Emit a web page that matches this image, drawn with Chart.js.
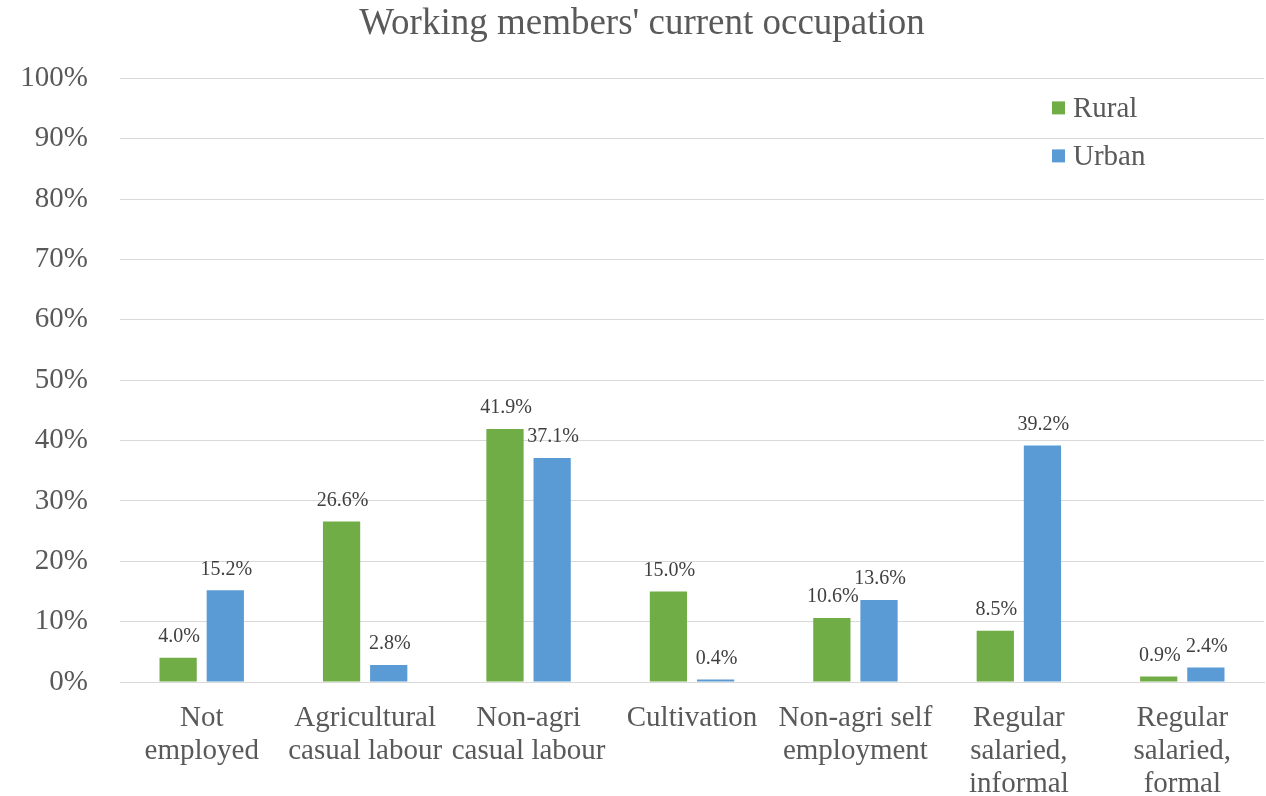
<!DOCTYPE html>
<html>
<head>
<meta charset="utf-8">
<script src="https://cdn.jsdelivr.net/npm/chart.js@4/dist/chart.umd.min.js"></script>
<style>
  html, body { margin: 0; padding: 0; background: #fff; }
  #wrap { width: 1266px; height: 796px; }
</style>
</head>
<body>
<div id="wrap"><canvas id="grafico"></canvas></div>
<script>
const categorias = [
  ["Not", "employed"],
  ["Agricultural", "casual labour"],
  ["Non-agri", "casual labour"],
  ["Cultivation"],
  ["Non-agri self", "employment"],
  ["Regular", "salaried,", "informal"],
  ["Regular", "salaried,", "formal"]
];
const rural = [4.0, 26.6, 41.9, 15.0, 10.6, 8.5, 0.9];
const urbano = [15.2, 2.8, 37.1, 0.4, 13.6, 39.2, 2.4];
const serieNomes = ["Rural", "Urban"];
const ticksY = [0, 10, 20, 30, 40, 50, 60, 70, 80, 90, 100];

const fonte = "'Liberation Serif', 'Times New Roman', serif";
const cinza = "#595959";

// rotulos de valor em cima de cada barra
const rotulosPlugin = {
  id: "rotulos",
  afterDatasetsDraw(chart){
    const ctx = chart.ctx;
    ctx.save();
    ctx.font = "20px " + fonte;
    ctx.fillStyle = "#404040";
    ctx.textAlign = "center";
    ctx.textBaseline = "bottom";
    chart.data.datasets.forEach((ds, i)=>{
      const meta = chart.getDatasetMeta(i);
      meta.data.forEach((bar, j)=>{
        ctx.fillText(ds.data[j].toFixed(1) + "%", bar.x + 1, bar.y - 11);
      });
    });
    ctx.restore();
  }
};

// legenda vertical dentro da area do grafico
const legendaPlugin = {
  id: "legendaDentro",
  afterDraw(chart){
    const ctx = chart.ctx;
    const area = chart.chartArea;
    const x0 = area.right - 212;
    const y0 = area.top + 30;
    ctx.save();
    ctx.font = "29px " + fonte;
    ctx.textBaseline = "middle";
    chart.data.datasets.forEach((ds, i)=>{
      const y = y0 + i * 48;
      ctx.fillStyle = ds.backgroundColor;
      ctx.fillRect(x0, y - 7, 13, 13);
      ctx.fillStyle = cinza;
      ctx.fillText(ds.label, x0 + 21, y + 1);
    });
    ctx.restore();
  }
};

const grafico = new Chart(document.getElementById("grafico"), {
  type: "bar",
  data: {
    labels: categorias,
    datasets: [
      { label: serieNomes[0], data: rural, backgroundColor: "#70AD47" },
      { label: serieNomes[1], data: urbano, backgroundColor: "#5B9BD5" }
    ]
  },
  options: {
    responsive: true,
    maintainAspectRatio: false,
    animation: false,
    categoryPercentage: 0.577,
    barPercentage: 0.79,
    layout: { padding: { left: 20, right: 2, top: 0, bottom: 0 } },
    plugins: {
      legend: { display: false },
      tooltip: { enabled: false },
      title: {
        display: true,
        text: "Working members' current occupation",
        color: cinza,
        font: { family: fonte, size: 37, weight: "normal" },
        padding: { top: 2, bottom: 32 }
      }
    },
    scales: {
      x: {
        grid: { display: false },
        border: { color: "#D9D9D9" },
        afterFit(axis){ axis.height = 114; },
        ticks: {
          color: cinza,
          font: { family: fonte, size: 29, lineHeight: 1.14 },
          padding: 12,
          maxRotation: 0,
          autoSkip: false
        }
      },
      y: {
        min: 0,
        max: 100,
        afterBuildTicks(axis){
          axis.ticks = ticksY.map(v => ({ value: v }));
        },
        afterFit(axis){ axis.width = 100; },
        grid: { color: "#D9D9D9", lineWidth: 1, drawTicks: false },
        border: { display: false },
        ticks: {
          color: cinza,
          font: { family: fonte, size: 29 },
          padding: 32,
          callback: v => v + "%"
        }
      }
    }
  },
  plugins: [rotulosPlugin, legendaPlugin]
});
</script>
</body>
</html>
